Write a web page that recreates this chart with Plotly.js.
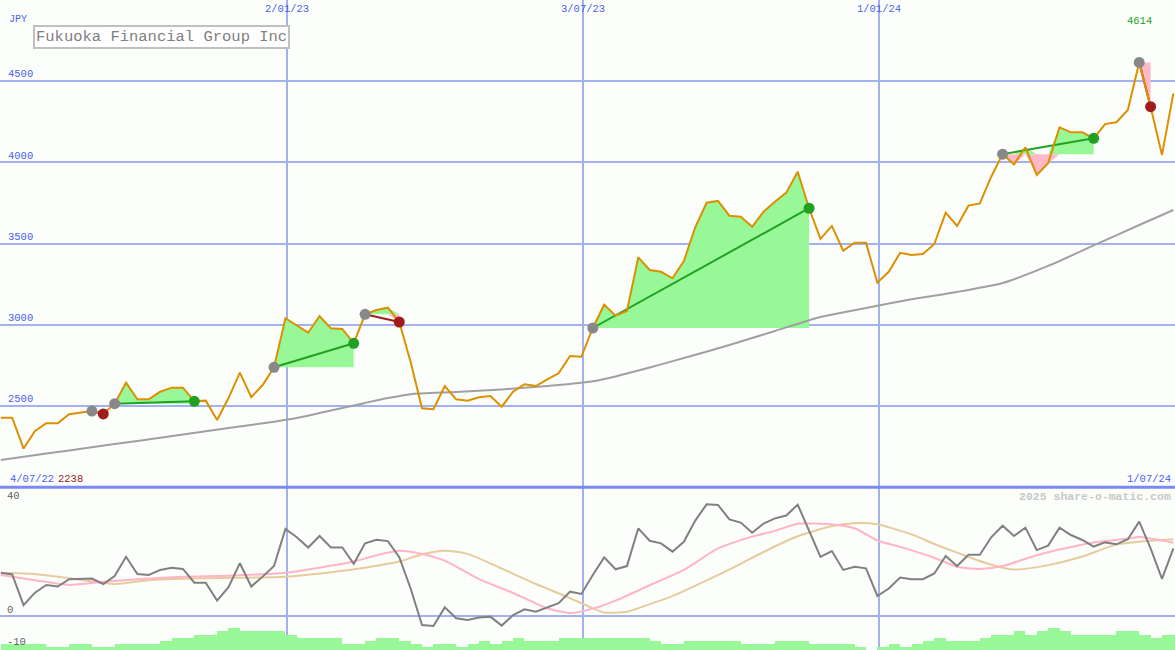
<!DOCTYPE html>
<html><head><meta charset="utf-8">
<script src="https://cdn.plot.ly/plotly-3.0.1.min.js"></script>
<style>html,body{margin:0;padding:0;background:#fcfefc;}#chart{width:1175px;height:650px;}</style>
</head><body><div id="chart"></div>
<script>
// ---- data ----
const firstWeek = '2022-07-10';
const price = [2428,2428,2238,2346,2394,2394,2449,2459,2469,2451,
 2514,2643,2541,2541,2588,2613,2613,2529,2533,2414,
 2549,2705,2554,2629,2738,3040,2998,2951,3054,2978,
 2974,2886,3064,3091,3105,3017,2771,2486,2480,2623,
 2541,2533,2554,2562,2496,2588,2634,2623,2664,2701,
 2808,2803,2980,3123,3056,3085,3415,3337,3326,3286,
 3392,3600,3751,3762,3671,3665,3603,3696,3757,3813,
 3942,3717,3528,3608,3456,3505,3505,3259,3326,3443,
 3429,3435,3497,3690,3608,3733,3747,3911,4050,3987,
 4092,3922,3994,4215,4184,4184,4147,4235,4246,4322,
 4614,4342,4045,4424];
const maWeeks = [0,4,8,12,16,20,24,26,28,30,32,34,36,40,44,48,50,52,54,56,58,60,64,68,72,76,80,84,88,92,96,100,103];
const maValues = [2168,2207,2246,2285,2325,2364,2403,2426,2457,2488,2519,2549,2573,2586,2602,2623,2636,2652,2682,2718,2756,2795,2875,2962,3048,3103,3157,3202,3257,3362,3488,3614,3706];
const entryWeeks = [8,10,24,32,52,88,100];
const exitWeeks  = [9,17,31,35,71,96,101];
const oscillator = [13.5,13.0,3.4,7.3,9.7,9.2,11.5,11.7,11.7,10.0,
 12.5,18.5,13.1,12.8,14.4,15.1,14.7,10.4,10.4,4.8,
 9.0,16.5,9.2,12.3,15.6,27.2,24.6,21.4,25.0,21.4,
 21.4,16.3,22.7,23.8,23.4,18.4,8.6,-2.8,-3.1,2.7,
 -0.7,-1.25,-0.5,-0.2,-3.0,0.3,2.1,1.35,2.7,4.0,
 7.6,6.9,12.8,18.3,14.6,15.6,27.4,23.5,22.7,20.1,
 23.2,29.8,34.9,34.7,30.2,29.2,26.0,28.9,30.5,31.4,
 34.8,26.9,18.5,20.3,14.4,15.4,14.9,6.25,8.6,12.0,
 11.5,11.5,13.3,18.75,15.6,19.1,19.1,24.6,28.2,25.0,
 27.6,20.6,22.0,27.6,25.3,23.75,21.7,23.0,22.4,24.0,
 29.5,21.1,11.6,21.1];
const pinkWeeks = [0,3,6,9,12,16,20,25,28,31,33,35,37,39,42,45,48,50,52,54,57,60,63,66,68,70,73,75,77,79,82,84,86,88,91,93,96,99,100,101,103];
const pinkValues = [12.8,11.2,9.7,10.7,11.5,12.3,12.6,13.5,15.1,17.0,19.0,20.4,19.4,17.3,11.5,7.2,2.4,0.9,2.3,4.8,9.6,14.4,21.1,24.8,26.6,28.8,28.6,27.4,23.6,21.6,18.2,15.4,14.7,15.6,19.0,20.8,23.0,24.2,24.7,24.2,22.9];
const tanWeeks = [0,3,6,10,13,18,25,29,32,35,37,39,41,44,47,50,52,53,55,57,59,62,65,67,70,73,75,77,80,82,84,87,89,92,95,98,101,103];
const tanValues = [13.5,13.1,11.8,10.0,11.2,11.8,12.3,13.7,15.1,17.0,19.3,20.4,19.4,14.8,10.0,5.6,2.4,1.1,1.3,3.7,6.2,11.1,16.3,20.0,24.9,28.1,29.0,28.7,25.5,22.5,19.8,16.0,14.5,15.9,18.6,22.3,23.5,24.0];
const volume = [1.875,1.875,1.875,1.875,1.03,1.03,1.875,1.875,1.03,1.03,
 1.875,1.875,1.875,1.875,2.8,3.84,3.84,4.69,4.69,5.94,
 6.78,5.94,5.94,5.94,5.94,4.69,3.84,3.84,3.84,3.84,
 1.875,1.875,2.8,3.84,3.84,2.8,1.875,1.03,1.875,1.875,
 1.03,1.875,2.8,1.875,2.8,3.84,2.8,2.8,2.8,3.84,
 3.84,3.84,3.84,3.84,3.84,3.84,3.84,2.8,1.875,1.875,
 2.8,2.8,2.8,2.8,2.8,1.875,1.875,1.875,2.8,2.8,
 2.8,1.875,1.875,1.875,1.875,1.03,0,1.03,1.875,1.03,
 1.875,2.8,3.84,2.8,2.8,2.8,3.84,4.69,4.69,5.94,
 4.69,5.94,6.78,5.94,4.69,4.69,4.69,4.69,5.94,5.94,
 4.69,3.84,4.69,4.69];
const priceTicks = [2500,3000,3500,4000,4500];
const dateTicks = ['2023-01-02','2023-07-03','2024-01-01'];
const dateTickText = ['2/01/23','3/07/23','1/01/24'];
const startLabel = '4/07/22', endLabel = '1/07/24';
const titleText = 'Fukuoka Financial Group Inc';
const currency = 'JPY';

// ---- helpers ----
const DAY = 86400000;
const t0 = Date.parse(firstWeek + 'T00:00:00Z');
const wk = i => new Date(t0 + i * 7 * DAY).toISOString().slice(0, 10);
const dates = price.map((_, i) => wk(i));
const xRange = ['2022-07-09 12:00', '2024-07-01 00:00'];
const W = 1175, H = 650;
const px = x => x / W, py = y => 1 - y / H;
const SPLIT = 1 - 487.25 / H;

const BLUE = '#4a5ef0', GRID = '#a3b1f1';
const FONT = 'Liberation Mono, DejaVu Sans Mono, monospace';

const traces = [];
// trade fills
entryWeeks.forEach((e, k) => {
  const x = exitWeeks[k];
  const xs = dates.slice(e, x + 1);
  const ps = price.slice(e, x + 1);
  const ep = price[e];
  const base = ps.map(() => ep);
  const common = {type: 'scatter', mode: 'lines', x: xs, xaxis: 'x', yaxis: 'y', hoverinfo: 'skip', line: {width: 0}};
  traces.push(Object.assign({}, common, {y: base}));
  traces.push(Object.assign({}, common, {y: ps.map(p => Math.max(p, ep)), fill: 'tonexty', fillcolor: '#98f898'}));
  traces.push(Object.assign({}, common, {y: base}));
  traces.push(Object.assign({}, common, {y: ps.map(p => Math.min(p, ep)), fill: 'tonexty', fillcolor: '#ffb8c8'}));
});
// moving average
traces.push({type: 'scatter', mode: 'lines', x: maWeeks.map(wk), y: maValues, xaxis: 'x', yaxis: 'y',
  line: {color: '#a0a0a0', width: 2, shape: 'spline', smoothing: 0.6}});
// trade lines
entryWeeks.forEach((e, k) => {
  const x = exitWeeks[k];
  const col = price[x] >= price[e] ? '#22a022' : '#a01c1c';
  traces.push({type: 'scatter', mode: 'lines', x: [dates[e], dates[x]], y: [price[e], price[x]],
    xaxis: 'x', yaxis: 'y', line: {color: col, width: 2}});
});
// price line
traces.push({type: 'scatter', mode: 'lines', x: dates, y: price, xaxis: 'x', yaxis: 'y',
  line: {color: '#dc9000', width: 2}});
// trade markers
entryWeeks.forEach((e, k) => {
  const x = exitWeeks[k];
  const col = price[x] >= price[e] ? '#22a022' : '#a01c1c';
  traces.push({type: 'scatter', mode: 'markers', x: [dates[x]], y: [price[x]], xaxis: 'x', yaxis: 'y',
    marker: {color: col, size: 11}});
  traces.push({type: 'scatter', mode: 'markers', x: [dates[e]], y: [price[e]], xaxis: 'x', yaxis: 'y',
    marker: {color: '#888888', size: 11}});
});
// lower panel
traces.push({type: 'bar', x: dates, y: volume, base: -10.625, offset: 0, width: 7 * DAY,
  xaxis: 'x2', yaxis: 'y2', marker: {color: '#98f898', line: {width: 0}}});
traces.push({type: 'scatter', mode: 'lines', x: tanWeeks.map(wk), y: tanValues, xaxis: 'x2', yaxis: 'y2',
  line: {color: '#e6cc9c', width: 2, shape: 'spline', smoothing: 0.6}});
traces.push({type: 'scatter', mode: 'lines', x: pinkWeeks.map(wk), y: pinkValues, xaxis: 'x2', yaxis: 'y2',
  line: {color: '#ffb4c8', width: 2, shape: 'spline', smoothing: 0.6}});
traces.push({type: 'scatter', mode: 'lines', x: dates, y: oscillator, xaxis: 'x2', yaxis: 'y2',
  line: {color: '#808080', width: 2}});

const iMax = price.indexOf(Math.max(...price));
const minP = Math.min(...price);

const ann = (x, y, text, opts) => Object.assign({xref: 'paper', yref: 'paper', x: px(x), y: py(y), text: text,
  showarrow: false, xanchor: 'left', yanchor: 'middle', font: {family: FONT, size: 10, color: BLUE}}, opts || {});

const layout = {
  width: W, height: H, margin: {l: 0, r: 0, t: 0, b: 0},
  paper_bgcolor: '#fcfefc', plot_bgcolor: '#fcfefc', showlegend: false, bargap: 0,
  font: {family: FONT, size: 10, color: BLUE},
  xaxis: {type: 'date', range: xRange, anchor: 'y', side: 'top', tickvals: dateTicks, ticktext: dateTickText,
    ticklabelposition: 'inside', ticks: '', showgrid: true, gridcolor: GRID, gridwidth: 1.5, zeroline: false,
    showline: false, tickfont: {family: FONT, size: 10.5, color: BLUE}, ticklabelstandoff: 2},
  xaxis2: {type: 'date', range: xRange, anchor: 'y2', matches: 'x', tickvals: dateTicks, showticklabels: false,
    ticks: '', showgrid: true, gridcolor: GRID, gridwidth: 1.5, zeroline: false, showline: false},
  yaxis: {domain: [SPLIT, 1], range: [2000, 2000 + 487.25 / 0.1625], tickvals: priceTicks,
    ticktext: priceTicks.map(String), ticklabelposition: 'inside top', ticks: '', showgrid: true,
    gridcolor: GRID, gridwidth: 2, zeroline: false, showline: false, ticklabelstandoff: 5,
    tickfont: {family: FONT, size: 10.5, color: BLUE}},
  yaxis2: {domain: [0, SPLIT], range: [-10.625, 40.23], showticklabels: false, ticks: '', showgrid: false,
    zeroline: true, zerolinecolor: GRID, zerolinewidth: 2, showline: false},
  shapes: [{type: 'line', xref: 'paper', yref: 'paper', x0: 0, x1: 1, y0: SPLIT, y1: SPLIT,
    line: {color: '#7a8af0', width: 3}}],
  annotations: [
    ann(7, 19, currency),
    ann(33, 25, titleText, {yanchor: 'top', bordercolor: '#c0c0c0', borderwidth: 2, borderpad: 1, bgcolor: '#ffffff',
      font: {family: FONT, size: 15.5, color: '#808080'}}),
    {xref: 'x', yref: 'paper', x: dates[iMax], y: py(21), text: String(Math.max(...price)), showarrow: false,
      xanchor: 'center', yanchor: 'middle', font: {family: FONT, size: 10.5, color: '#20a020'}},
    ann(8, 479, startLabel, {font: {family: FONT, size: 10.5, color: BLUE}}),
    ann(56, 479, String(minP), {font: {family: FONT, size: 10.5, color: '#a02020'}}),
    ann(1173, 479, endLabel, {xanchor: 'right', font: {family: FONT, size: 10.5, color: BLUE}}),
    ann(5, 496, '40', {font: {family: FONT, size: 10.5, color: '#606060'}}),
    ann(5, 610, '0', {font: {family: FONT, size: 10.5, color: '#606060'}}),
    ann(5, 642, '-10', {font: {family: FONT, size: 10.5, color: '#606060'}}),
    ann(1173, 496, '<b>2025 share-o-matic.com</b>', {xanchor: 'right', font: {family: FONT, size: 11.5, color: '#c8c8c8'}})
  ]
};
Plotly.newPlot('chart', traces, layout, {staticPlot: true, displayModeBar: false});
</script></body></html>
